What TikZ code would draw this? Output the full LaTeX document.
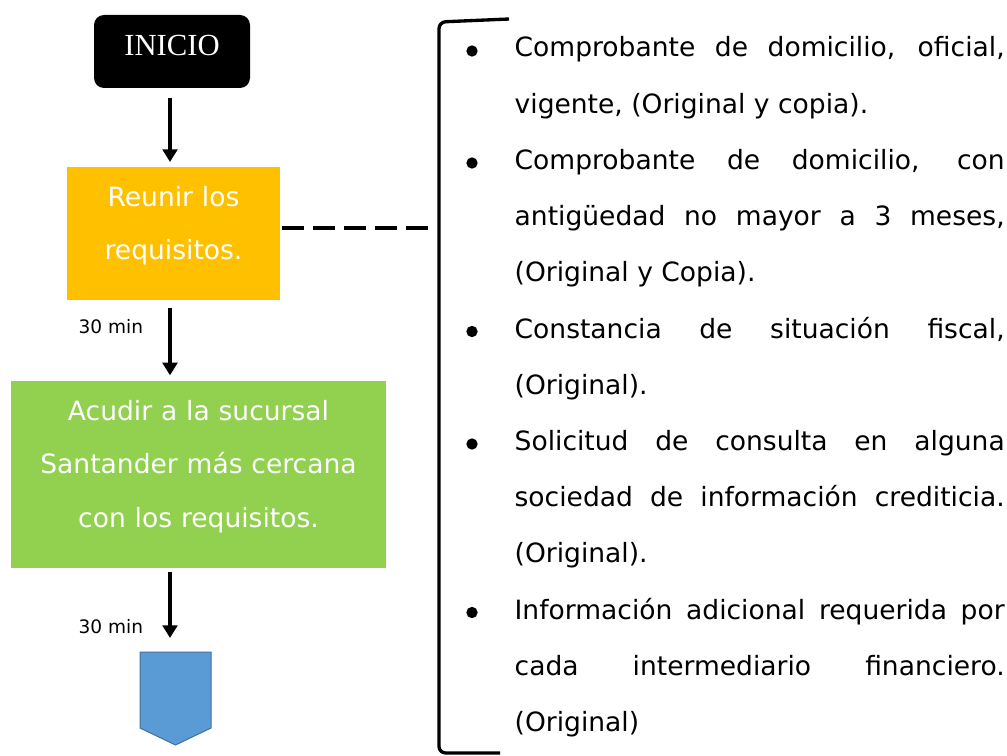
\documentclass[tikz,border=0pt]{standalone}
\usepackage{fontspec}
\setmainfont{DejaVu Sans}
\newfontfamily\headserif{Liberation Serif}
\usetikzlibrary{arrows.meta,positioning}

\definecolor{reqorange}{HTML}{FFC000}
\definecolor{visitgreen}{HTML}{92D050}
\definecolor{pageblue}{HTML}{5B9BD5}
\definecolor{pageedge}{HTML}{41719C}
\newcommand{\padbelow}{\par\vspace*{12pt}}
\tolerance=10000 \hbadness=10000 \hyphenpenalty=10000

\begin{document}
\begin{tikzpicture}[x=0.75pt,y=-0.75pt,line width=2.5pt,>={Triangle[width=11pt,length=9.5pt]}]
  \tikzstyle{startbox}=[fill=black,rounded corners=7.5pt,minimum width=117pt,minimum height=54.75pt,inner sep=0pt,text=white,text depth=9pt,font=\headserif\fontsize{23}{28}\selectfont]
  \tikzstyle{stepbox}=[inner sep=0pt,text=white,align=center,font=\fontsize{19.9}{40.1}\selectfont]
  \tikzstyle{flow}=[->,line width=2.8pt]
  \tikzstyle{dur}=[anchor=east,inner sep=0pt,xshift=-18.75pt,text=black,font=\fontsize{13.9}{16}\selectfont]
  \tikzstyle{reqtext}=[anchor=base west,inner sep=0pt,text width=367.5pt,align=justify,font=\fontsize{19.9}{42.15}\selectfont]
  \tikzstyle{dot}=[circle,fill=black,inner sep=0pt,minimum size=8.5pt]
  \tikzstyle{offpage}=[fill=pageblue,draw=pageedge,line width=0.75pt]
  \useasboundingbox (0,0) rectangle (1007,756);

  % flow column
  \node[startbox] (inicio) at (172,51.5) {INICIO};
  \node[stepbox,fill=reqorange,minimum width=159.75pt,minimum height=99.75pt,text width=159.75pt] (reunir) at (173.5,233.5) {Reunir los\\requisitos.\padbelow};
  \node[stepbox,fill=visitgreen,minimum width=281.25pt,minimum height=140.25pt,text width=281.25pt] (acudir) at (198.5,474.5) {Acudir a la sucursal\\Santander más cercana\\con los requisitos.\padbelow};
  \draw[offpage] (140,652) -- (211,652) -- (211,728) -- (175.5,745) -- (140,728) -- cycle;
  \coordinate (fin) at (175.5,652);
  \coordinate (axis) at (170,0);

  \draw[flow,shorten <=6pt,shorten >=2.5pt] (inicio.south -| axis) -- (reunir.north -| axis);
  \draw[flow,shorten <=4.5pt,shorten >=3pt] (reunir.south -| axis) -- node[dur,pos=.32] (dur1) {30 min} (acudir.north -| axis);
  \draw[flow,shorten <=1.5pt,shorten >=10.5pt] (acudir.south -| axis) -- node[dur,pos=.69] (dur2) {30 min} (fin -| axis);

  % requirements
  \coordinate (brk) at (428,228);
  \draw[dash pattern=on 16.5pt off 6.75pt] (brk -| reunir.east) -- (brk);
  \draw[rounded corners=5pt] (509,19) -- (439,22) -- (439,753) -- (500,753);

  \node[dot] (dot1) at (472,51) {};
  \node[reqtext] (req1) at (513,57) {Comprobante de domicilio, oficial,\linebreak vigente, (Original y copia).};
  \node[dot] (dot2) at (472,163) {};
  \node[reqtext] (req2) at (513,169.4) {Comprobante de domicilio, con\linebreak antigüedad no mayor a 3 meses,\linebreak (Original y Copia).};
  \node[dot] (dot3) at (472,331.5) {};
  \node[reqtext] (req3) at (513,338) {Constancia de situación fiscal,\linebreak (Original).};
  \node[dot] (dot4) at (472,444) {};
  \node[reqtext] (req4) at (513,450.4) {Solicitud de consulta en alguna\linebreak sociedad de información crediticia.\linebreak (Original).};
  \node[dot] (dot5) at (472,612.5) {};
  \node[reqtext] (req5) at (513,619) {Información adicional requerida por\linebreak cada intermediario financiero.\linebreak (Original)};
\end{tikzpicture}
\end{document}
